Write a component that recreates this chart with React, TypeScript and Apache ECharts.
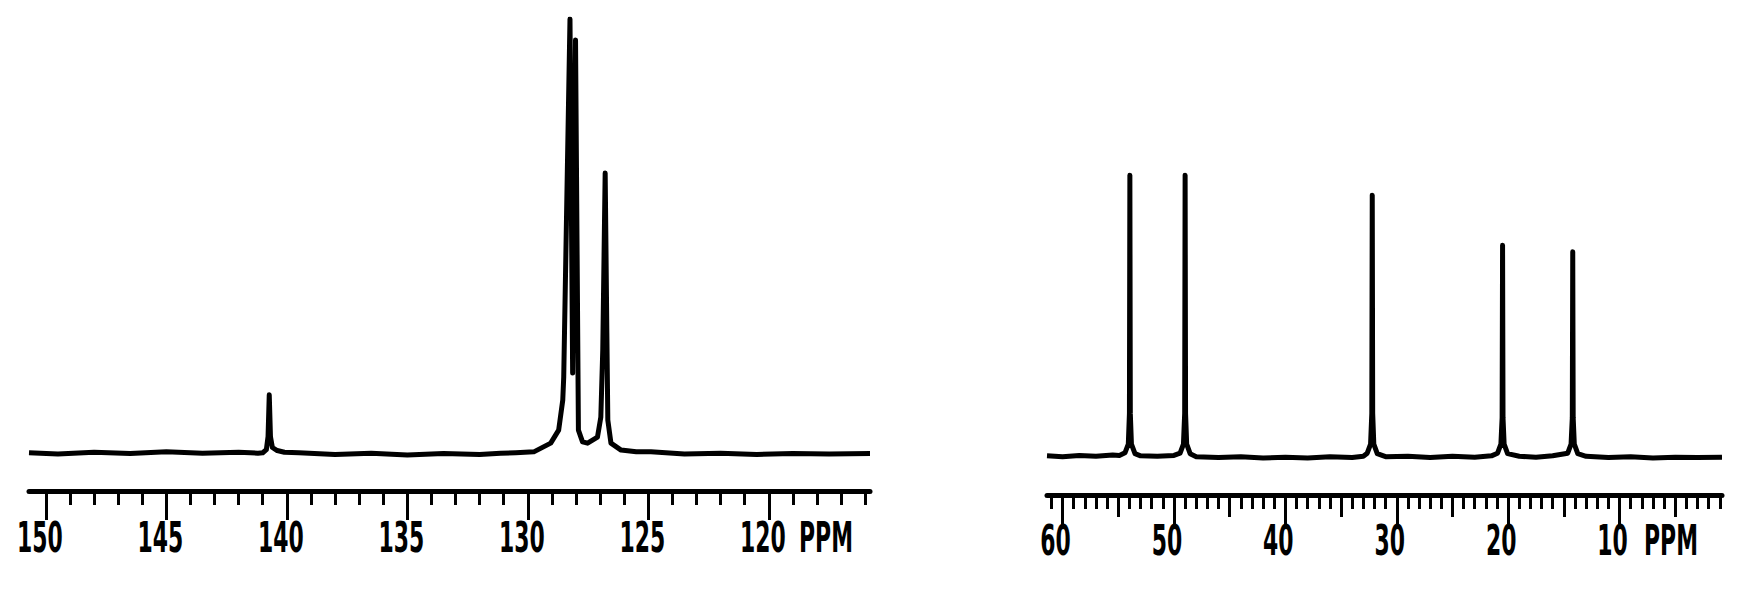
import React, { useEffect, useRef } from "react";
import * as echarts from "echarts";

// ---- Left panel (aromatic region), ppm vs relative intensity ----
const leftSpectrum: [number, number][] = [
  [150.7, 0.3], [149.5, 0.0], [148.0, 0.4], [146.5, 0.1], [145.0, 0.5], [143.5, 0.2],
  [142.0, 0.4], [141.2, 0.2], [141.0, 0.3], [140.85, 1.0], [140.78, 4.0], [140.73, 13.6],
  [140.68, 4.0], [140.6, 1.5], [140.4, 0.8], [140.1, 0.4], [139.5, 0.3], [138.0, -0.1],
  [136.5, 0.2], [135.0, -0.2], [133.5, 0.1], [132.0, -0.1], [131.13, 0.2], [130.5, 0.3],
  [129.75, 0.5], [129.05, 2.5], [128.72, 5.5], [128.55, 12.4], [128.51, 17.7], [128.25, 100],
  [128.14, 18.6], [128.02, 95.2], [127.9, 5.5], [127.73, 2.8], [127.52, 2.5], [127.11, 3.9],
  [126.97, 8.5], [126.89, 23.9], [126.79, 64.6], [126.72, 27.8], [126.68, 7.8], [126.55, 2.5],
  [126.13, 0.9], [125.5, 0.5], [124.89, 0.5], [123.5, 0.0], [122.0, 0.2], [120.5, -0.1],
  [119.0, 0.1], [117.5, 0.0], [115.8, 0.1],
];
const leftMinorTicks = [116, 117, 118, 119, 120, 121, 122, 123, 124, 125, 126, 127, 128, 129, 130,
  131, 132, 133, 134, 135, 136, 137, 138, 139, 140, 141, 142, 143, 144, 145, 146, 147, 148, 149, 150];
const leftMajorTicks = [120, 125, 130, 135, 140, 145, 150];

// ---- Right panel (aliphatic region) ----
const rightSpectrum: [number, number][] = [
  [61.4, 0.3], [60.0, 0.1], [58.5, 0.4], [57.0, 0.2], [55.5, 0.5], [54.9, 0.4], [54.4, 1.0],
  [54.1, 3.0], [54.0, 10], [53.96, 64.8], [53.92, 10], [53.82, 3.0], [53.5, 0.8], [53.0, 0.3],
  [51.5, 0.2], [50.0, 0.4], [49.45, 0.9], [49.15, 3.0], [49.04, 10], [49.0, 64.8], [48.96, 10],
  [48.86, 3.0], [48.55, 0.8], [48.0, 0.1], [46.0, -0.1], [44.0, 0.1], [42.0, -0.2], [40.0, 0.0],
  [38.0, -0.2], [36.0, 0.1], [34.0, -0.1], [33.0, 0.2], [32.65, 0.9], [32.35, 3.0],
  [32.24, 10], [32.2, 60.2], [32.16, 10], [32.06, 3.0], [31.75, 0.8], [31.0, 0.1], [29.0, 0.2],
  [27.0, -0.1], [25.0, 0.2], [23.0, 0.0], [21.5, 0.3], [20.95, 0.9], [20.65, 3.0], [20.54, 9],
  [20.5, 48.7], [20.46, 9], [20.36, 3.0], [20.05, 0.8], [19.0, 0.2], [17.5, 0.0], [16.0, 0.3],
  [14.65, 0.9], [14.35, 3.0], [14.24, 9], [14.2, 47.2], [14.16, 9], [14.06, 3.0], [13.75, 0.8],
  [13.0, 0.2], [11.0, -0.1], [9.0, 0.1], [7.0, -0.2], [5.0, 0.0], [3.0, -0.1], [0.8, 0.0],
];
const rightMinorTicks = [1, 2, 3, 4, 5, 6, 7, 8, 9, 10, 11, 12, 13, 14, 15, 16, 17, 18, 19, 20,
  21, 22, 23, 24, 25, 26, 27, 28, 29, 30, 31, 32, 33, 34, 35, 36, 37, 38, 39, 40, 41, 42, 43,
  44, 45, 46, 47, 48, 49, 50, 51, 52, 53, 54, 55, 56, 57, 58, 59, 60, 61];
const rightMediumTicks = [5, 15, 25, 35, 45, 55];
const rightMajorTicks = [10, 20, 30, 40, 50, 60];

const unitLabel = "PPM";
const FONT = "'DejaVu Sans Condensed', 'DejaVu Sans', sans-serif";

export default function App() {
  const ref = useRef<HTMLDivElement>(null);
  useEffect(() => {
    document.body.style.margin = "0";
    if (!ref.current) return;
    const chart = echarts.init(ref.current, undefined, { renderer: "svg" });

    const mkAxis = (
      grid: number, min: number, max: number, ticks: number[], len: number, showLine: boolean
    ) => ({
      type: "value",
      gridIndex: grid,
      position: "bottom",
      inverse: true,
      min, max,
      splitLine: { show: false },
      axisLine: { show: showLine, onZero: false, lineStyle: { color: "#000", width: 5 } },
      axisTick: {
        show: true, inside: false, length: len, customValues: ticks,
        lineStyle: { color: "#000", width: 3 },
      },
      axisLabel: { show: false },
    });

    chart.setOption({
      animation: false,
      backgroundColor: "#fff",
      grid: [
        { left: 29, width: 841, top: 19, height: 472, containLabel: false, outerBoundsMode: "none" },
        { left: 1047, width: 675, top: 22, height: 473, containLabel: false, outerBoundsMode: "none" },
      ],
      xAxis: [
        mkAxis(0, 115.8, 150.7, leftMinorTicks, 14, true),
        mkAxis(0, 115.8, 150.7, leftMajorTicks, 29, false),
        mkAxis(1, 0.8, 61.4, rightMinorTicks, 14, true),
        mkAxis(1, 0.8, 61.4, rightMediumTicks, 22, false),
        mkAxis(1, 0.8, 61.4, rightMajorTicks, 31, false),
      ],
      yAxis: [
        { type: "value", gridIndex: 0, min: -8.5, max: 100, show: false },
        { type: "value", gridIndex: 1, min: -8.7, max: 100, show: false },
      ],
      series: [
        {
          type: "line", xAxisIndex: 0, yAxisIndex: 0, data: leftSpectrum,
          showSymbol: false, symbol: "none", silent: true,
          lineStyle: { color: "#000", width: 5, join: "round" },
        },
        {
          type: "line", xAxisIndex: 2, yAxisIndex: 1, data: rightSpectrum,
          showSymbol: false, symbol: "none", silent: true,
          lineStyle: { color: "#000", width: 5, join: "round" },
        },
      ],
    });

    // Tick labels placed through the axes' own scales, drawn condensed like the plotter font.
    const font = `bold 42px ${FONT}`;
    const sx = 0.58;
    const mkLabel = (px: number, top: number, text: string) => ({
      type: "text", x: px, y: top, scaleX: sx, silent: true,
      style: { text, fill: "#000", font, align: "center", verticalAlign: "top" },
    });
    const graphics: any[] = [];
    leftMajorTicks.forEach((v) => {
      const px = chart.convertToPixel({ xAxisIndex: 1 }, v) as number;
      graphics.push(mkLabel(px - 6, 516, String(v)));
    });
    rightMajorTicks.forEach((v) => {
      const px = chart.convertToPixel({ xAxisIndex: 4 }, v) as number;
      graphics.push(mkLabel(px - 7, 519, String(v)));
    });
    graphics.push(mkLabel(826, 516, unitLabel));
    graphics.push(mkLabel(1671, 519, unitLabel));
    chart.setOption({ graphic: graphics });

    return () => chart.dispose();
  }, []);
  return <div ref={ref} style={{ position: "fixed", left: 0, top: 0, width: 1761, height: 591 }} />;
}
